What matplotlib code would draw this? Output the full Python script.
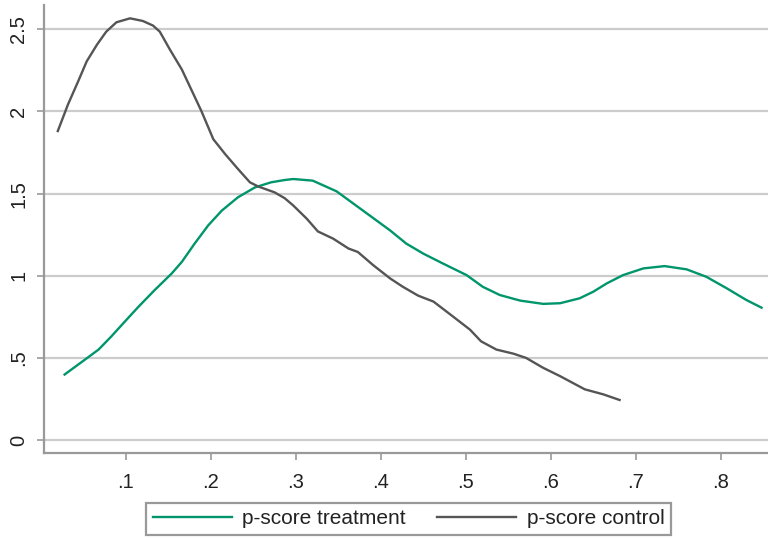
import numpy as np
import matplotlib
matplotlib.use("Agg")
import matplotlib.pyplot as plt

plt.rcParams["font.family"] = ["Liberation Sans", "DejaVu Sans"]

# kernel density of the propensity score, treated group
treat_x = [0.028, 0.052, 0.068, 0.083, 0.099, 0.115, 0.134, 0.154, 0.166, 0.181,
           0.197, 0.213, 0.232, 0.252, 0.271, 0.287, 0.297, 0.320, 0.348, 0.379,
           0.411, 0.430, 0.450, 0.473, 0.501, 0.520, 0.540, 0.564, 0.591, 0.611,
           0.634, 0.650, 0.666, 0.685, 0.709, 0.734, 0.760, 0.783, 0.807, 0.830,
           0.848]
treat_y = [0.399, 0.490, 0.551, 0.631, 0.722, 0.812, 0.913, 1.014, 1.085, 1.196,
           1.307, 1.397, 1.478, 1.538, 1.569, 1.583, 1.589, 1.579, 1.514, 1.397,
           1.276, 1.196, 1.135, 1.075, 1.004, 0.933, 0.883, 0.849, 0.829, 0.833,
           0.863, 0.903, 0.954, 1.004, 1.045, 1.059, 1.039, 0.994, 0.924, 0.853,
           0.806]

# kernel density of the propensity score, control group
ctrl_x = [0.020, 0.032, 0.044, 0.054, 0.066, 0.077, 0.089, 0.105, 0.120, 0.132,
          0.140, 0.152, 0.166, 0.177, 0.189, 0.203, 0.217, 0.232, 0.246, 0.256,
          0.275, 0.287, 0.297, 0.313, 0.326, 0.344, 0.362, 0.373, 0.391, 0.411,
          0.426, 0.444, 0.462, 0.485, 0.505, 0.518, 0.536, 0.556, 0.571, 0.591,
          0.611, 0.640, 0.662, 0.681]
ctrl_y = [1.881, 2.043, 2.184, 2.305, 2.406, 2.486, 2.543, 2.567, 2.551, 2.523,
          2.486, 2.376, 2.255, 2.134, 2.002, 1.831, 1.740, 1.650, 1.569, 1.543,
          1.508, 1.472, 1.428, 1.347, 1.270, 1.226, 1.166, 1.145, 1.065, 0.984,
          0.933, 0.879, 0.843, 0.752, 0.672, 0.601, 0.551, 0.526, 0.500, 0.440,
          0.389, 0.309, 0.278, 0.244]

x_ticks = [0.1, 0.2, 0.3, 0.4, 0.5, 0.6, 0.7, 0.8]
x_labels = [".1", ".2", ".3", ".4", ".5", ".6", ".7", ".8"]
y_ticks = [0, 0.5, 1, 1.5, 2, 2.5]
y_labels = ["0", ".5", "1", "1.5", "2", "2.5"]

fig = plt.figure(figsize=(7.68, 5.4), dpi=100)
ax = fig.add_axes([0.057, 0.161, 0.943, 0.830])

green = "#00956a"
grey = "#555555"
ax.plot(treat_x, treat_y, color=green, lw=1.7, label="p-score treatment",
        solid_joinstyle="round")
ax.plot(ctrl_x, ctrl_y, color=grey, lw=1.7, label="p-score control",
        solid_joinstyle="round")

ax.set_xlim(0.0035, 0.8556)
ax.set_ylim(-0.079, 2.649)

ax.set_xticks(x_ticks)
ax.set_xticklabels(x_labels)
ax.set_yticks(y_ticks)
ax.set_yticklabels(y_labels, rotation=90, va="center")

ax.grid(axis="y", color="#cccccc", lw=1.6)
ax.set_axisbelow(True)
for side in ["top", "right"]:
    ax.spines[side].set_visible(False)
for side in ["left", "bottom"]:
    ax.spines[side].set_color("#999999")
    ax.spines[side].set_linewidth(1.6)
ax.tick_params(colors="#999999", width=1.2, length=5, labelcolor="#222222",
               labelsize=14.5)
ax.tick_params(axis="x", pad=9)
ax.tick_params(axis="y", pad=6)

leg = fig.legend(loc="center", bbox_to_anchor=(0.532, 0.039), ncol=2,
                 fontsize=15, handlelength=3.8, handletextpad=0.5,
                 columnspacing=1.5, borderpad=0.3, fancybox=False,
                 framealpha=1, edgecolor="#999999")
leg.get_frame().set_linewidth(1.6)
for t in leg.get_texts():
    t.set_color("#222222")

fig.savefig("out.png", dpi=100)
